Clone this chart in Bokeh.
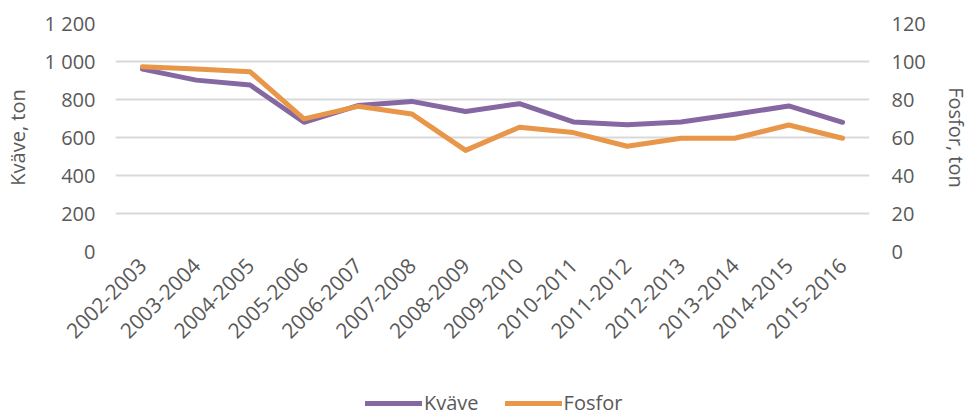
from math import pi
from bokeh.plotting import figure
from bokeh.layouts import column
from bokeh.models import (Range1d, LinearAxis, SingleIntervalTicker, CustomJSTickFormatter,
                          Legend, LegendItem, ColumnDataSource)
from bokeh.embed import file_html
from bokeh.resources import INLINE

seasons = ["2002-2003", "2003-2004", "2004-2005", "2005-2006", "2006-2007", "2007-2008",
           "2008-2009", "2009-2010", "2010-2011", "2011-2012", "2012-2013", "2013-2014",
           "2014-2015", "2015-2016"]
kvave = [960, 902, 876, 680, 768, 790, 737, 778, 682, 667, 682, 722, 766, 680]
fosfor = [97.2, 96.0, 94.6, 69.8, 76.4, 72.4, 53.2, 65.4, 62.6, 55.4, 59.6, 59.6, 66.6, 59.6]

FONT = "Open Sans"
TXT = "#595959"
FS = "20px"
C_K = "#8567a2"
C_F = "#e8964a"

src = ColumnDataSource(dict(season=seasons, kvave=kvave, fosfor=fosfor))

p = figure(x_range=seasons, y_range=Range1d(0, 1200), width=972, height=380,
           output_backend="svg", toolbar_location=None,
           min_border_left=113, min_border_right=97, min_border_top=23, min_border_bottom=129)
p.x_range.range_padding = 0
p.extra_y_ranges = {"p": Range1d(0, 120)}
p.outline_line_color = None
p.background_fill_color = "white"
p.border_fill_color = "white"

p.xgrid.grid_line_color = None
p.ygrid.grid_line_color = "#d9d9d9"
p.ygrid.grid_line_width = 2
p.ygrid.ticker = SingleIntervalTicker(interval=200)

fmt = CustomJSTickFormatter(code="return tick.toString().replace(/\\B(?=(\\d{3})+(?!\\d))/g, ' ');")

def style(ax, fs=FS):
    ax.axis_line_color = None
    ax.major_tick_line_color = None
    ax.minor_tick_line_color = None
    ax.major_tick_out = 0
    ax.major_tick_in = 0
    ax.minor_tick_out = 0
    ax.minor_tick_in = 0
    ax.major_label_text_font = FONT
    ax.major_label_text_font_size = fs
    ax.major_label_text_color = TXT
    ax.axis_label_text_font = FONT
    ax.axis_label_text_font_size = FS
    ax.axis_label_text_color = TXT
    ax.axis_label_text_font_style = "normal"

ly = p.yaxis[0]
ly.ticker = SingleIntervalTicker(interval=200)
ly.formatter = fmt
ly.axis_label = "Kväve, ton"
style(ly)
ly.major_label_standoff = 20
ly.axis_label_standoff = 11

ry = LinearAxis(y_range_name="p", ticker=SingleIntervalTicker(interval=20),
                axis_label="Fosfor, ton")
style(ry)
ry.major_label_standoff = 22
ry.axis_label_standoff = 14
p.add_layout(ry, "right")

xa = p.xaxis[0]
style(xa, "21px")
xa.major_label_orientation = pi / 4
xa.major_label_standoff = 10

p.line("season", "kvave", source=src, line_color=C_K, line_width=5,
       line_cap="round", line_join="round")
p.line("season", "fosfor", source=src, y_range_name="p", line_color=C_F,
       line_width=5, line_cap="round", line_join="round")

# legend strip below the chart (series drawn out of view; only the legend shows)
lg = figure(width=972, height=36, output_backend="svg", toolbar_location=None,
            x_axis_type=None, y_axis_type=None, x_range=seasons, y_range=Range1d(-2, -1),
            min_border=0, min_border_left=0, min_border_right=0, min_border_top=0,
            min_border_bottom=0)
lg.outline_line_color = None
lg.grid.visible = False
lk = lg.line("season", "kvave", source=src, line_color=C_K, line_width=5, line_cap="round")
lf = lg.line("season", "fosfor", source=src, line_color=C_F, line_width=5, line_cap="round")
legend = Legend(items=[LegendItem(label="Kväve", renderers=[lk]),
                       LegendItem(label="Fosfor", renderers=[lf])],
                orientation="horizontal", location=(250, 0),
                glyph_width=57, glyph_height=22, label_standoff=2, spacing=26,
                padding=0, margin=0, border_line_color=None, background_fill_alpha=0,
                label_text_font=FONT, label_text_font_size=FS, label_text_color=TXT)
lg.add_layout(legend, "center")

layout = column(p, lg, spacing=0)
open("out.html", "w").write(file_html(layout, INLINE))
